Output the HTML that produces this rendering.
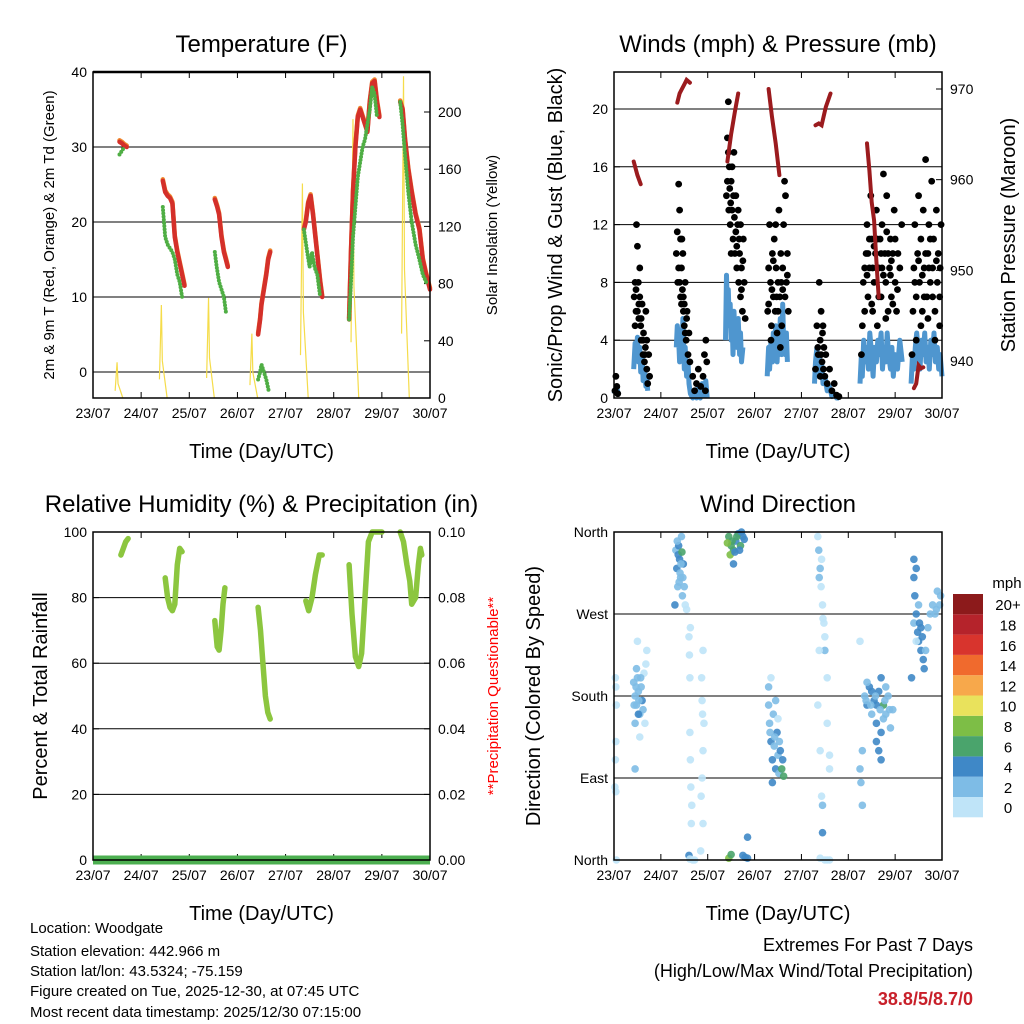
<!DOCTYPE html>
<html><head><meta charset="utf-8"><style>
body{margin:0;background:#fff;}
svg{display:block;font-family:"Liberation Sans",sans-serif;}
</style></head><body>
<svg id="s" width="1024" height="1024" viewBox="0 0 1024 1024">
<rect width="1024" height="1024" fill="#fff"/>
<g id="g1"></g>
<g id="g2"></g>
<g id="g3"></g>
<g id="g4"></g>
<g id="g5"></g>
<g font-size="15" fill="#000">
<text x="30" y="933">Location: Woodgate</text>
<text x="30" y="956">Station elevation: 442.966 m</text>
<text x="30" y="976">Station lat/lon: 43.5324; -75.159</text>
<text x="30" y="996">Figure created on Tue, 2025-12-30, at 07:45 UTC</text>
<text x="30" y="1017">Most recent data timestamp: 2025/12/30 07:15:00</text>
</g>
<g text-anchor="end">
<text x="973" y="951" font-size="18">Extremes For Past 7 Days</text>
<text x="973" y="977" font-size="18">(High/Low/Max Wind/Total Precipitation)</text>
<text x="973" y="1005" font-size="18" font-weight="bold" fill="#c8202a">38.8/5/8.7/0</text>
</g>
</svg>
<script>
const days=["23/07","24/07","25/07","26/07","27/07","28/07","29/07","30/07"];
const tempRed=[[[0.55,30.7],[0.6,30.5],[0.65,30.2],[0.7,30]],[[1.45,25.5],[1.5,24],[1.55,23.5],[1.6,23.2],[1.65,22.5],[1.7,18],[1.75,16],[1.8,14.5],[1.85,13],[1.9,11.5]],[[2.53,23],[2.58,22],[2.62,21],[2.67,18],[2.72,16],[2.76,15],[2.8,14]],[[3.43,5],[3.47,7],[3.5,9],[3.55,11],[3.6,13],[3.64,15],[3.68,16]],[[4.38,19],[4.42,20],[4.47,22.5],[4.52,23.5],[4.57,21],[4.62,18],[4.67,15],[4.72,12],[4.76,10]],[[5.32,7],[5.36,16],[5.4,24],[5.45,30],[5.5,34],[5.55,35],[5.6,34],[5.65,33],[5.7,32],[5.75,36],[5.8,38.5],[5.85,38.8],[5.9,36],[5.95,34]],[[6.38,36],[6.43,35],[6.48,31],[6.55,27],[6.62,24],[6.7,21],[6.78,19],[6.85,15],[6.92,13],[7.0,11]]];
const tempGreen=[[[0.55,29],[0.6,29.5],[0.65,30]],[[1.45,22],[1.5,18],[1.55,17],[1.6,16.5],[1.65,16],[1.7,15],[1.75,13],[1.8,12],[1.85,10]],[[2.53,16],[2.57,14],[2.62,12],[2.67,11],[2.72,10],[2.76,8]],[[3.43,-1],[3.47,0],[3.5,1],[3.55,0],[3.6,-1],[3.65,-2.5]],[[4.38,19],[4.45,16],[4.5,14],[4.55,16],[4.6,14],[4.66,13],[4.72,10]],[[5.32,7],[5.36,12],[5.4,18],[5.45,22],[5.5,26],[5.55,28],[5.6,30],[5.65,31],[5.7,33],[5.75,35],[5.8,38],[5.85,37],[5.9,34]],[[6.38,36],[6.43,33],[6.48,29],[6.55,24],[6.62,20],[6.7,17],[6.78,15],[6.85,13],[6.92,12]]];
const solarDays=[0.5,1.42,2.4,3.3,4.35,5.4,6.45];
const solarPeaks=[25,65,70,45,150,195,225];
const windSust=[[0.0,0.3],[0.05,0.8],[0.1,0.2],[0.42,2],[0.45,3.8],[0.48,3],[0.5,4.2],[0.52,2.5],[0.55,3.5],[0.57,1.8],[0.6,3],[0.62,1.2],[0.65,2],[0.68,0.8],[0.7,1.5],[0.72,0.5],[1.33,3.5],[1.35,5],[1.38,4],[1.4,2.5],[1.42,4.5],[1.45,3],[1.47,5.5],[1.5,2],[1.52,3.5],[1.55,1.5],[1.58,2.5],[1.6,1],[1.63,0.3],[1.68,0],[1.72,0.5],[1.76,0],[1.8,0.8],[1.84,0],[1.88,1],[1.92,0.2],[1.96,1.2],[1.99,0],[2.38,4],[2.4,8.5],[2.42,6],[2.44,7.5],[2.46,5],[2.48,6.5],[2.5,4],[2.52,5.5],[2.54,3],[2.56,6],[2.58,4],[2.6,5],[2.62,3.5],[2.65,5.5],[2.68,3],[2.7,4.5],[2.72,2.5],[2.75,3.5],[3.27,1.5],[3.3,3.5],[3.32,2],[3.35,4],[3.38,2.5],[3.4,4.5],[3.42,3],[3.45,5],[3.48,2.5],[3.5,4],[3.52,3],[3.55,5.5],[3.58,3],[3.6,6.5],[3.62,4],[3.65,3],[3.68,4.5],[3.7,2.5],[4.28,1],[4.3,2.5],[4.33,3.5],[4.36,2],[4.38,3],[4.4,1.5],[4.43,2.5],[4.46,1],[4.5,1.5],[4.55,0.5],[4.6,0.8],[4.65,0.1],[4.7,0.3],[4.75,0],[4.8,0],[5.25,1],[5.28,3],[5.3,1.5],[5.33,4],[5.36,2.5],[5.4,3.5],[5.43,2],[5.46,4.5],[5.5,3],[5.53,1.5],[5.56,3.5],[5.6,2.5],[5.63,4],[5.66,3],[5.7,4.5],[5.73,2],[5.76,3.5],[5.8,2.5],[5.83,4.5],[5.86,3],[5.9,2],[5.93,3.5],[5.96,1.5],[6.0,3],[6.05,2],[6.1,4],[6.15,2.5],[6.34,1],[6.37,3],[6.4,2],[6.43,3.5],[6.46,4.5],[6.5,3],[6.53,2],[6.56,4],[6.6,3],[6.63,4.5],[6.66,2.5],[6.7,3.5],[6.73,2],[6.76,4],[6.8,3],[6.83,4.5],[6.86,2.5],[6.9,3.5],[6.93,2],[6.96,3],[7.0,1.5]];
const windGust=[[0.02,0.5],[0.04,1.5],[0.06,0.8],[0.08,0.3],[0.43,7],[0.45,8],[0.47,6],[0.48,12],[0.5,10.5],[0.52,8],[0.53,5.5],[0.55,7],[0.57,5],[0.58,4],[0.6,6.5],[0.62,3],[0.63,4.5],[0.65,2.5],[0.67,3.5],[0.7,2],[0.72,1],[0.74,3],[0.76,1.5],[0.5,6],[0.55,9],[0.6,4],[0.45,5],[0.68,6],[0.47,7.5],[0.53,6.5],[0.58,5.5],[0.62,4],[0.66,3],[0.7,4],[1.33,10],[1.36,8],[1.38,14.8],[1.4,13],[1.42,11],[1.44,9],[1.46,7.5],[1.48,6],[1.5,5],[1.52,8],[1.54,4],[1.56,6],[1.58,3],[1.6,4.5],[1.62,2.5],[1.38,9],[1.42,7],[1.47,10],[1.5,6.5],[1.55,5.5],[1.4,8],[1.44,6.5],[1.48,7],[1.52,4.5],[1.35,11.5],[1.45,11],[1.68,1.5],[1.72,0.5],[1.76,1],[1.8,2],[1.85,0.8],[1.9,1.5],[1.93,3],[1.96,4],[1.98,2.5],[1.95,0.5],[2.4,14],[2.42,18],[2.44,20.5],[2.46,16],[2.48,12],[2.5,15],[2.52,13],[2.54,11],[2.56,17],[2.58,10],[2.6,14],[2.62,9],[2.64,12],[2.66,8],[2.68,10],[2.7,7],[2.72,9],[2.74,6],[2.76,11],[2.78,8],[2.8,5.5],[2.45,13],[2.5,10],[2.55,14],[2.6,11.5],[2.65,13],[2.7,12],[2.42,15],[2.47,14.5],[2.52,16],[2.57,12.5],[2.62,10.5],[2.67,11],[2.72,7.5],[2.75,9.5],[2.44,17],[2.49,13.5],[3.28,6],[3.3,9],[3.32,12],[3.34,8],[3.36,5],[3.38,10],[3.4,7],[3.42,11],[3.44,6],[3.46,9],[3.48,4.5],[3.5,8],[3.52,13],[3.54,7],[3.56,10],[3.58,5],[3.6,9],[3.62,12],[3.64,15],[3.66,14],[3.68,8],[3.7,10],[3.72,6],[3.35,4],[3.45,12],[3.55,3.5],[3.65,7],[3.3,6.5],[3.4,9.5],[3.5,6],[3.6,7.5],[3.7,8.5],[3.37,7.5],[3.47,7],[3.57,8],[4.3,2],[4.33,5],[4.36,3],[4.38,8],[4.4,4],[4.42,6],[4.44,2.5],[4.46,5],[4.48,3.5],[4.5,1.5],[4.52,3],[4.55,1],[4.6,2],[4.65,0.5],[4.7,1],[4.75,0.2],[4.8,0.1],[4.4,1.5],[4.45,4.5],[4.35,3.5],[4.42,3],[4.47,2],[5.28,3],[5.3,5],[5.32,8],[5.35,6],[5.38,10],[5.4,12],[5.42,7],[5.45,9],[5.48,14],[5.5,11],[5.52,6],[5.55,8],[5.58,10],[5.6,13],[5.62,5],[5.65,9],[5.68,11],[5.7,7],[5.72,12],[5.75,15.5],[5.78,10],[5.8,8],[5.82,14],[5.85,6],[5.88,9],[5.9,11],[5.92,7],[5.95,10],[5.98,13],[6.0,8],[6.03,6],[6.06,10],[6.1,9],[6.14,12],[5.4,8.5],[5.5,6.5],[5.6,9],[5.7,10],[5.8,5.5],[5.9,8.5],[6.0,11],[5.35,9],[5.45,11],[5.55,10.5],[5.65,7],[5.75,8.5],[5.85,10],[5.95,6.5],[6.05,7.5],[5.42,10],[5.52,9],[5.62,11],[5.72,9],[5.82,11.5],[5.92,9.5],[6.36,3],[6.38,6],[6.4,9],[6.42,12],[6.45,7],[6.48,10],[6.5,14],[6.52,8],[6.55,11],[6.58,6],[6.6,13],[6.62,9],[6.65,16.5],[6.68,7],[6.7,10],[6.72,12],[6.75,8],[6.78,15],[6.8,9],[6.82,11],[6.85,6],[6.88,13],[6.9,8],[6.92,10],[6.95,7],[6.98,12],[6.45,4],[6.55,5],[6.7,5.5],[6.85,4],[6.95,5],[6.42,8],[6.5,9.5],[6.58,8.5],[6.65,10],[6.72,9],[6.8,7],[6.88,9.5],[6.96,9],[6.62,7],[6.75,11]];
const pressure=[[[0.42,962],[0.5,960.5],[0.57,959.5]],[[1.35,968.5],[1.4,969.5],[1.45,970],[1.5,970.5],[1.55,971],[1.62,970.7]],[[2.42,962],[2.5,965],[2.58,967.5],[2.65,969.5]],[[3.3,970],[3.37,967],[3.45,964],[3.53,960.5]],[[4.3,966],[4.37,966.2],[4.43,966],[4.52,968],[4.62,969.5]],[[5.4,964],[5.45,961],[5.5,957.5],[5.55,955.5],[5.6,951],[5.65,947]],[[6.4,937],[6.45,937.5],[6.5,939.5],[6.55,939.2],[6.6,939.3]]];
const rhSegs=[[[0.58,93],[0.63,95],[0.68,97],[0.73,98]],[[1.5,86],[1.55,80],[1.6,77],[1.65,76],[1.7,78],[1.75,90],[1.8,95],[1.85,94]],[[2.53,73],[2.58,65],[2.62,64],[2.66,70],[2.7,78],[2.74,83]],[[3.43,77],[3.48,70],[3.53,60],[3.58,50],[3.63,45],[3.68,43]],[[4.42,79],[4.48,76],[4.55,80],[4.62,87],[4.7,93],[4.76,93]],[[5.32,90],[5.38,75],[5.45,62],[5.52,59],[5.58,63],[5.65,80],[5.72,97],[5.8,100],[5.9,100],[6.0,100]],[[6.38,100],[6.45,97],[6.52,90],[6.58,85],[6.62,78],[6.7,80],[6.76,90],[6.8,95],[6.83,93]]];
const precip=[[0,0],[7,0]];
const dirPts=[[0.03,200,1],[0.04,190,1],[0.05,170,1],[0.04,130,1],[0.03,110,1],[0.02,80,1],[0.04,75,1],[0.05,0,1],[0.42,195,3],[0.45,180,3],[0.48,170,3],[0.5,200,2],[0.52,185,3],[0.55,160,2],[0.58,190,3],[0.6,175,5],[0.62,165,3],[0.64,205,1],[0.66,150,1],[0.68,215,1],[0.7,230,1],[0.45,150,2],[0.55,135,1],[0.48,210,3],[0.52,160,5],[0.5,240,1],[0.45,100,3],[0.47,190,2],[0.53,175,2],[0.57,200,2],[0.43,170,2],[1.32,340,3],[1.34,320,4],[1.36,300,3],[1.38,345,5],[1.4,330,4],[1.42,310,3],[1.44,355,3],[1.46,290,3],[1.48,325,4],[1.5,300,3],[1.52,280,1],[1.55,275,1],[1.37,335,5],[1.41,315,3],[1.45,338,6],[1.3,280,4],[1.35,350,3],[1.39,305,3],[1.43,325,3],[1.47,310,3],[1.6,245,1],[1.61,225,1],[1.62,200,1],[1.62,140,1],[1.63,110,1],[1.64,80,1],[1.66,60,1],[1.65,40,1],[1.6,5,4],[1.62,1,1],[1.68,0,1],[1.72,0,1],[1.63,255,1],[1.87,200,1],[1.88,175,1],[1.89,160,1],[1.9,120,1],[1.88,90,1],[1.86,70,1],[1.9,40,1],[1.85,10,1],[1.92,150,1],[1.9,230,1],[2.45,355,7],[2.5,345,6],[2.55,340,6],[2.6,350,4],[2.65,358,5],[2.7,345,6],[2.75,355,4],[2.48,335,9],[2.52,350,6],[2.58,338,5],[2.62,355,6],[2.68,340,4],[2.72,360,5],[2.42,348,8],[2.78,352,4],[2.55,325,4],[2.45,2,8],[2.5,6,7],[2.75,5,4],[2.8,3,4],[2.85,2,4],[2.85,25,4],[3.3,170,3],[3.32,150,3],[3.35,130,4],[3.38,110,4],[3.4,160,3],[3.42,125,3],[3.45,100,4],[3.48,140,4],[3.5,115,3],[3.52,95,3],[3.55,120,4],[3.58,100,6],[3.6,110,4],[3.62,92,6],[3.35,200,1],[3.45,175,3],[3.38,85,4],[3.5,155,1],[3.3,190,3],[3.33,140,3],[3.43,135,3],[3.53,130,3],[4.35,355,1],[4.37,340,2],[4.4,320,2],[4.42,300,1],[4.45,280,1],[4.48,260,1],[4.5,245,1],[4.38,310,2],[4.43,330,1],[4.46,265,1],[4.5,230,2],[4.38,230,1],[4.35,170,1],[4.4,120,1],[4.45,60,2],[4.43,70,1],[4.45,30,4],[4.4,2,1],[4.5,0,1],[4.55,0,1],[4.6,0,1],[4.55,150,1],[4.6,115,1],[4.6,100,1],[4.55,200,1],[5.35,180,3],[5.4,170,4],[5.45,190,4],[5.5,160,3],[5.55,175,4],[5.6,150,4],[5.65,185,5],[5.7,140,4],[5.75,170,6],[5.8,160,3],[5.85,180,3],[5.9,145,3],[5.95,165,3],[5.4,195,3],[5.5,185,4],[5.6,130,4],[5.65,120,4],[5.7,200,5],[5.75,155,3],[5.25,100,2],[5.27,85,2],[5.3,120,2],[5.3,60,2],[5.25,240,1],[5.6,170,4],[5.7,110,4],[5.8,190,3],[5.38,175,3],[5.48,170,3],[5.58,180,3],[5.68,165,3],[5.78,175,3],[5.88,165,3],[6.4,310,4],[6.42,290,4],[6.45,270,4],[6.48,250,4],[6.5,240,4],[6.55,230,4],[6.6,220,4],[6.62,210,4],[6.65,230,3],[6.7,255,3],[6.75,270,3],[6.8,280,3],[6.85,270,3],[6.9,295,3],[6.95,280,3],[6.4,260,3],[6.45,240,1],[6.5,280,3],[6.55,255,4],[6.35,200,4],[6.4,330,4],[6.45,320,4],[6.52,260,4],[6.58,245,4],[6.88,275,3],[6.97,290,3]];
const cbLabels=["0","2","4","6","8","10","12","14","16","18","20+"];
const cbColors=["#bfe4f8","#7ebce6","#3f88c7","#4aa46c","#7dbe46","#e9e25c","#f7a84b","#f06a2d","#d8342d","#b5232b","#8c1a1b"];

const NS="http://www.w3.org/2000/svg";
function el(parent,tag,attrs,txt){const e=document.createElementNS(NS,tag);for(const k in attrs)e.setAttribute(k,attrs[k]);if(txt!==undefined)e.textContent=txt;parent.appendChild(e);return e;}
function lin(d0,d1,r0,r1){return v=>r0+(v-d0)*(r1-r0)/(d1-d0);}
function path(pts,fx,fy){return pts.map((p,i)=>(i?"L":"M")+fx(p[0]).toFixed(1)+","+fy(p[1]).toFixed(1)).join("");}

function frame(g,L,R,T,B,title,xlab){
  const fx=lin(0,7,L,R);
  const t=el(g,"text",{x:(L+R)/2,y:T-20,"font-size":24,"text-anchor":"middle"},title);
  
  
  const xl=el(g,"text",{x:(L+R)/2,y:B+60,"font-size":20,"text-anchor":"middle"},xlab);
  
  
  days.forEach((d,i)=>{const x=fx(i);
    el(g,"line",{x1:x,x2:x,y1:B,y2:B-6,stroke:"#000"});
    el(g,"line",{x1:x,x2:x,y1:T,y2:T+6,stroke:"#000"});
    const tl=el(g,"text",{x:x,y:B+20,"font-size":14,"text-anchor":"middle"},d);
    
    
  });
  return fx;
}
function border(g,L,R,T,B){const r=el(g,"rect",{x:L,y:T,width:R-L,height:B-T,fill:"none",stroke:"#000","stroke-width":1.5});}
function yAxis(g,side,x,fy,ticks,labels,grid,L,R){
  ticks.forEach((v,i)=>{const y=fy(v);
    if(grid)el(g,"line",{x1:L,x2:R,y1:y,y2:y,stroke:"#000","stroke-width":1});
    el(g,"line",{x1:x,x2:x+(side?-6:6),y1:y,y2:y,stroke:"#000"});
    const t=el(g,"text",{x:side?x+8:x-6,y:y+5,"font-size":14,"text-anchor":side?"start":"end"},labels[i]);
    
    
  });
}
function ytitle(g,x,y,txt,fs,color){const t=el(g,"text",{x:0,y:0,"font-size":fs,"text-anchor":"middle",fill:color||"#000",transform:`translate(${x},${y}) rotate(-90)`},txt);}

// Panel 1
(function(){const g=document.getElementById("g1");const L=93,R=430,T=72,B=398;
 const fx=frame(g,L,R,T,B,"Temperature (F)","Time (Day/UTC)");
 const fy=lin(0,40,372,72), fs=lin(0,200,398,112);
 yAxis(g,0,L,fy,[0,10,20,30,40],["0","10","20","30","40"],true,L,R);
 yAxis(g,1,R,fs,[0,40,80,120,160,200],["0","40","80","120","160","200"],false);
 ytitle(g,54,235,"2m & 9m T (Red, Orange) & 2m Td (Green)",15);
 ytitle(g,497,235,"Solar Insolation (Yellow)",15);
 solarDays.forEach((d,i)=>{const p=el(g,"path",{d:`M${fx(d-0.04)},${fs(solarPeaks[i]*0.2)}L${fx(d)},${fs(solarPeaks[i])}L${fx(d+0.02)},${fs(solarPeaks[i]*0.4)}L${fx(d+0.12)},${fs(0)}`,fill:"none",stroke:"#f5dc4a","stroke-width":1.2});
  });
 tempRed.forEach(s=>{const p=el(g,"path",{d:path(s,fx,v=>fy(v)-1.5),fill:"none",stroke:"#f08a30","stroke-width":4.5,"stroke-linejoin":"round","stroke-linecap":"round"});
  const q=el(g,"path",{d:path(s,fx,fy),fill:"none",stroke:"#d4302a","stroke-width":4.5,"stroke-linejoin":"round","stroke-linecap":"round"});});
 tempGreen.forEach(s=>{const p=el(g,"path",{d:path(s,fx,fy),fill:"none",stroke:"#4fae44","stroke-width":4,"stroke-dasharray":"0 3.2","stroke-linecap":"round"});});
 border(g,L,R,T,B);
 el(g,"line",{x1:L,x2:R,y1:T,y2:T,stroke:"#000","stroke-width":2.5});
})();
// Panel 2
(function(){const g=document.getElementById("g2");const L=614,R=942,T=72,B=398;
 const fx=frame(g,L,R,T,B,"Winds (mph) & Pressure (mb)","Time (Day/UTC)");
 const fy=lin(0,20,398,109), fp=lin(940,970,361,89);
 yAxis(g,0,L,fy,[0,4,8,12,16,20],["0","4","8","12","16","20"],true,L,R);
 yAxis(g,1,R,fp,[940,950,960,970],["940","950","960","970"],false);
 ytitle(g,562,235,"Sonic/Prop Wind & Gust (Blue, Black)",20);
 ytitle(g,1015,235,"Station Pressure (Maroon)",20);
 let seg=[],segs=[];windSust.forEach((p,i)=>{if(i&&p[0]-windSust[i-1][0]>0.15){segs.push(seg);seg=[];}seg.push(p);});segs.push(seg);
 segs.forEach(s=>{const p=el(g,"path",{d:path(s,fx,fy),fill:"none",stroke:"#4f96cf","stroke-width":5,"stroke-linejoin":"round"});});
 windGust.forEach(p=>{const c=el(g,"circle",{cx:fx(p[0]),cy:fy(p[1]),r:3.4,fill:"#000"});});
 pressure.forEach(s=>{const p=el(g,"path",{d:path(s,fx,fp),fill:"none",stroke:"#9b1b1e","stroke-width":4,"stroke-linecap":"round"});});
 border(g,L,R,T,B);
})();
// Panel 3
(function(){const g=document.getElementById("g3");const L=93,R=430,T=532,B=860;
 const fx=frame(g,L,R,T,B,"Relative Humidity (%) & Precipitation (in)","Time (Day/UTC)");
 const fy=lin(0,100,860,532), fr=lin(0,0.1,860,532);
 yAxis(g,0,L,fy,[0,20,40,60,80,100],["0","20","40","60","80","100"],true,L,R);
 yAxis(g,1,R,fr,[0,0.02,0.04,0.06,0.08,0.1],["0.00","0.02","0.04","0.06","0.08","0.10"],false);
 ytitle(g,47,696,"Percent & Total Rainfall",20);
 ytitle(g,498,696,"**Precipitation Questionable**",15,"#ff0000");
 rhSegs.forEach(s=>{const p=el(g,"path",{d:path(s,fx,fy),fill:"none",stroke:"#8cc63f","stroke-width":5.5,"stroke-linejoin":"round","stroke-linecap":"round"});});
 const pp=el(g,"path",{d:path(precip,fx,fr),fill:"none",stroke:"#4caf50","stroke-width":9});
 border(g,L,R,T,B);
})();
// Panel 4
(function(){const g=document.getElementById("g4");const L=614,R=942,T=532,B=860;
 const fx=frame(g,L,R,T,B,"Wind Direction","Time (Day/UTC)");
 const fy=lin(0,360,860,532);
 yAxis(g,0,L,fy,[0,90,180,270,360],["North","East","South","West","North"],true,L,R);
 ytitle(g,540,696,"Direction (Colored By Speed)",20);
 dirPts.forEach(p=>{const bin=Math.min(10,Math.max(0,Math.floor(p[2]/2)));const c=el(g,"circle",{cx:fx(p[0]),cy:fy(p[1]),r:3.8,fill:cbColors[bin],"fill-opacity":0.9});});
 border(g,L,R,T,B);
})();
// Colorbar
(function(){const g=document.getElementById("g5");
 el(g,"text",{x:1007,y:588,"font-size":15,"text-anchor":"middle"},"mph");
 const top=594,h=20.3;
 cbLabels.forEach((l,i)=>{const y=top+(10-i)*h;
  const r=el(g,"rect",{x:953,y:y,width:30,height:h,fill:cbColors[i]});
  const t=el(g,"text",{x:1008,y:y+h/2+6,"font-size":15,"text-anchor":"middle"},l);});
})();
</script>
</body></html>
